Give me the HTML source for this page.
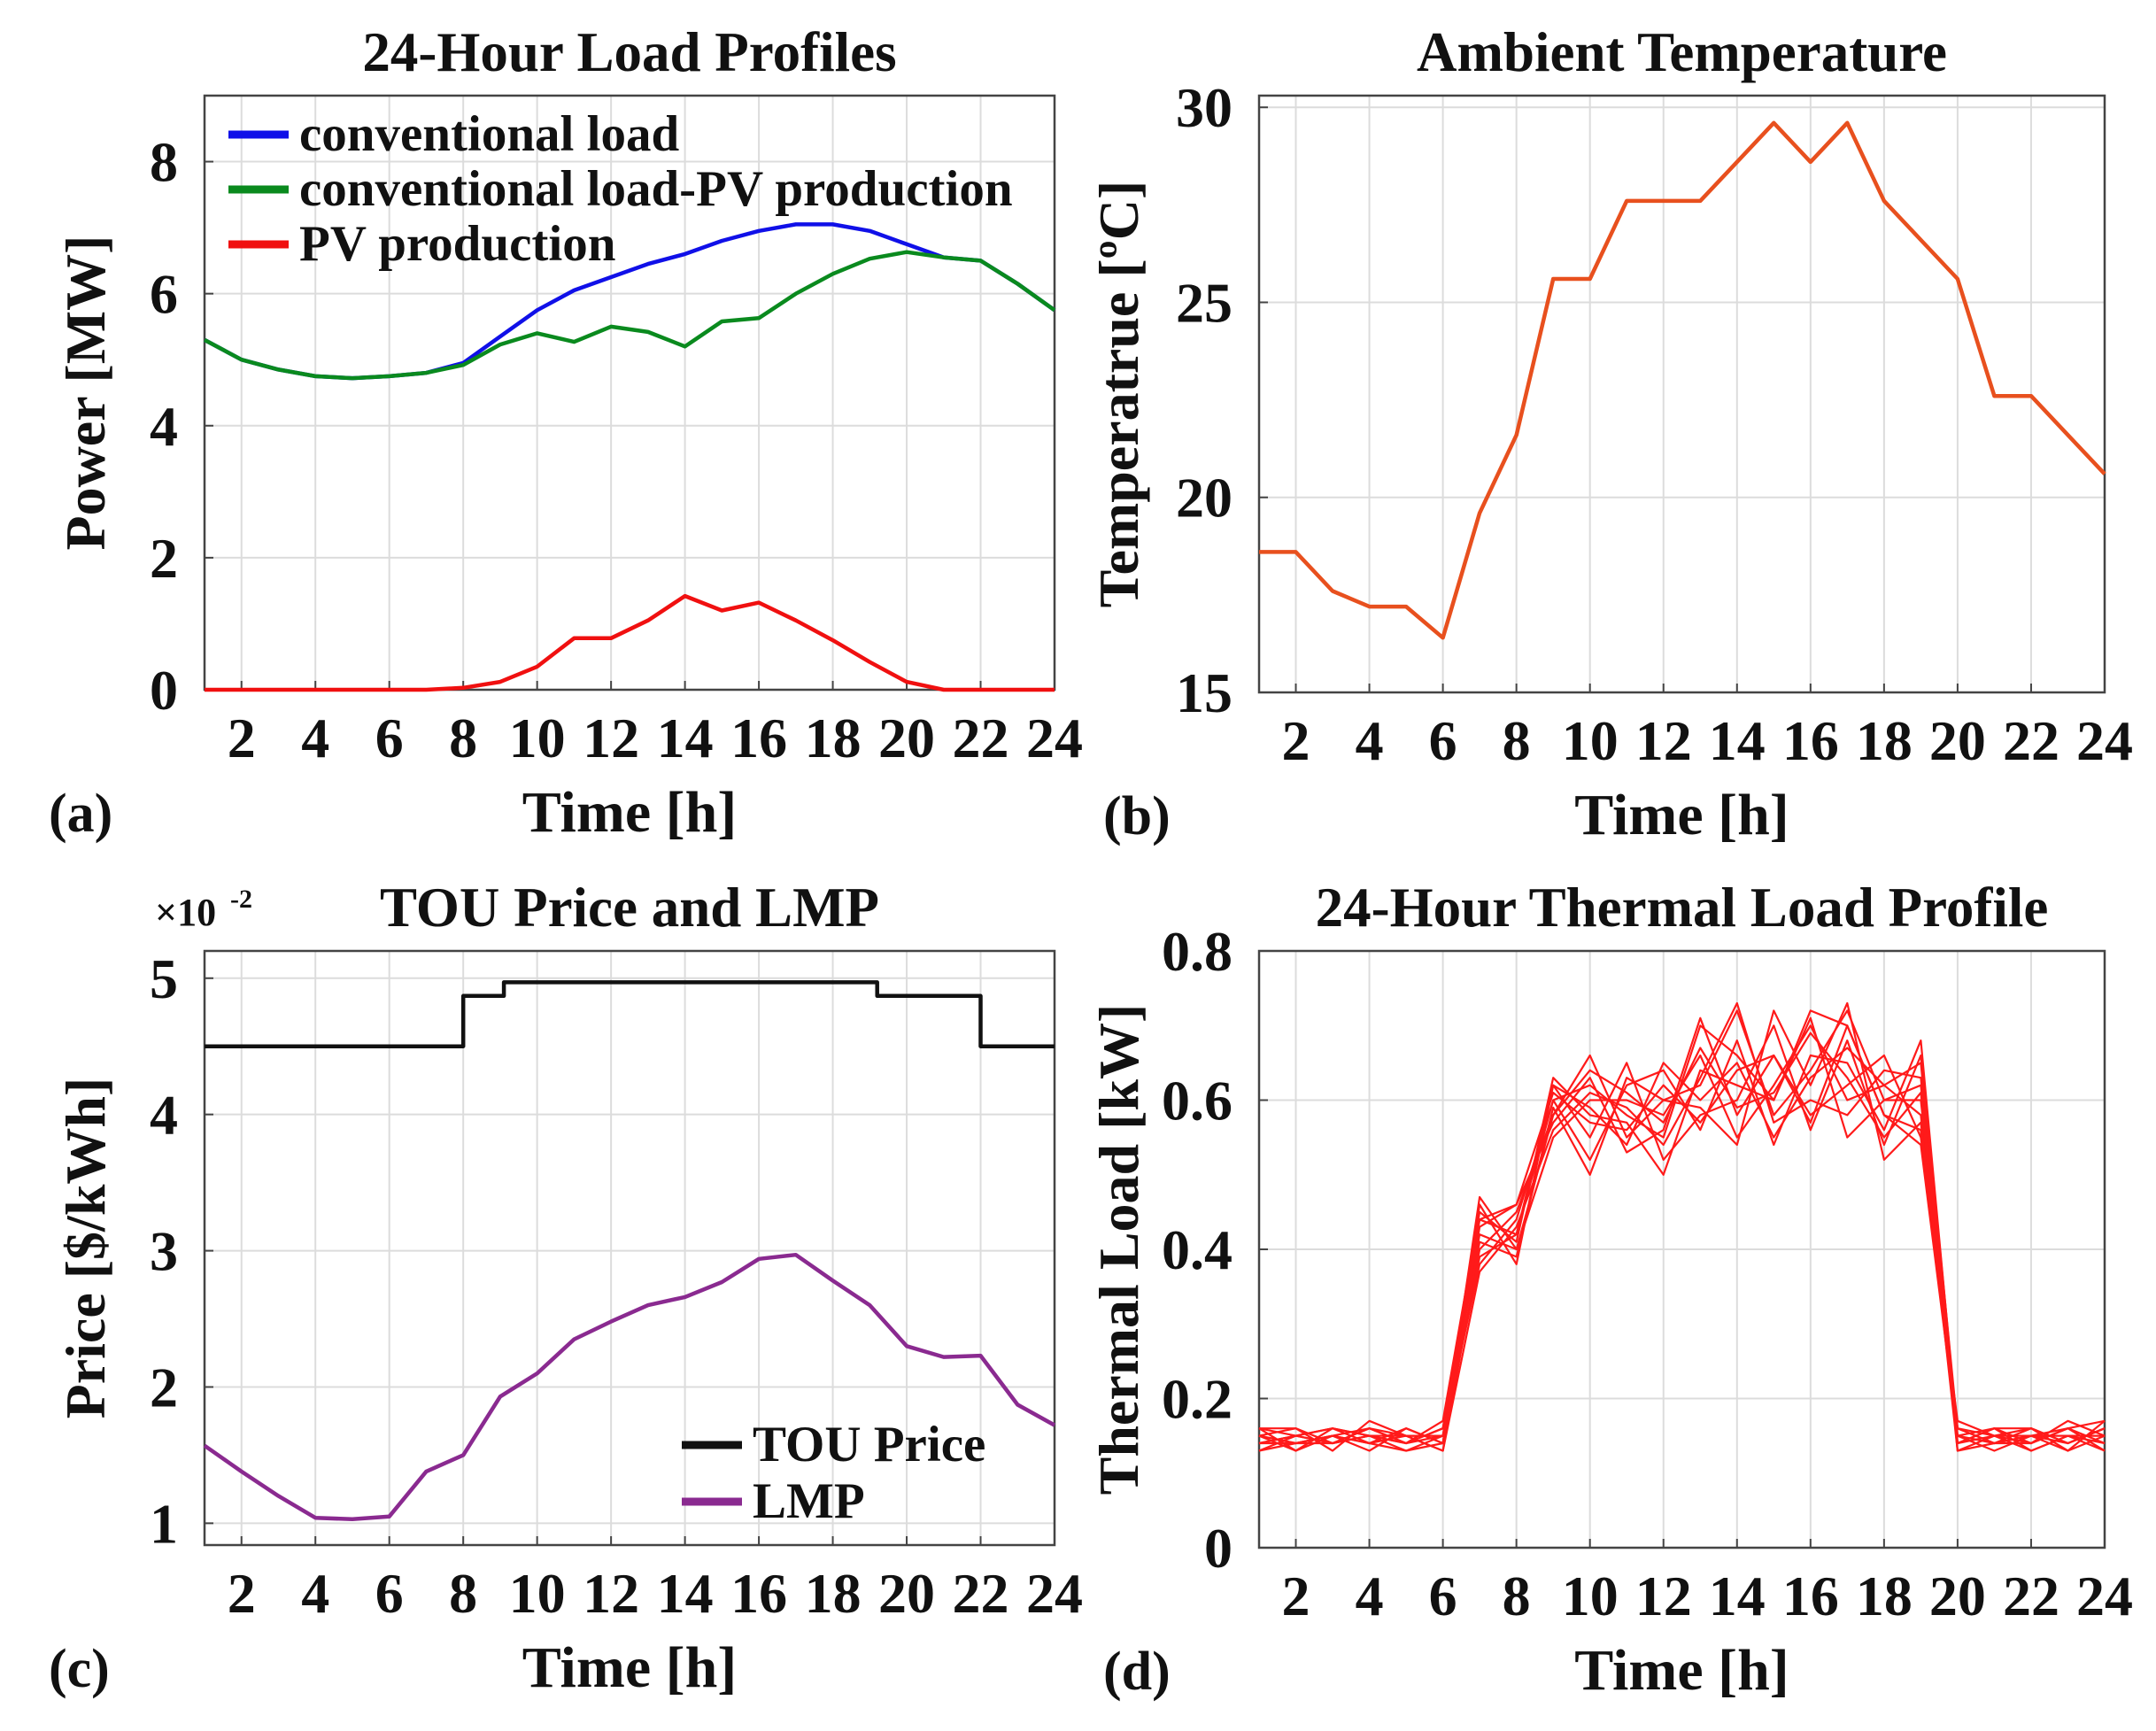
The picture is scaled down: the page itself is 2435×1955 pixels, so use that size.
<!DOCTYPE html>
<html><head><meta charset="utf-8"><style>
html,body{margin:0;padding:0;background:#fff;}
svg{display:block;}
text{font-family:"Liberation Serif",serif;font-weight:bold;fill:#111;}
</style></head><body>
<svg id="fig" width="2435" height="1955" viewBox="0 0 2435 1955" xmlns="http://www.w3.org/2000/svg"></svg>
<script>
const hours=[1,2,3,4,5,6,7,8,9,10,11,12,13,14,15,16,17,18,19,20,21,22,23,24];
const xTicks=[2,4,6,8,10,12,14,16,18,20,22,24];
// (a)
const convLoad=[5.3,5.0,4.85,4.75,4.72,4.75,4.8,4.95,5.35,5.75,6.05,6.25,6.45,6.6,6.8,6.95,7.05,7.05,6.95,6.75,6.55,6.5,6.15,5.75];
const netLoad=[5.3,5.0,4.85,4.75,4.72,4.75,4.8,4.92,5.23,5.4,5.27,5.5,5.42,5.2,5.58,5.63,6.0,6.3,6.53,6.63,6.55,6.5,6.15,5.75];
const pvProd=[0,0,0,0,0,0,0,0.03,0.12,0.35,0.78,0.78,1.05,1.42,1.2,1.32,1.05,0.75,0.42,0.12,0,0,0,0];
const aYTicks=[0,2,4,6,8];
// (b)
const temperature=[18.6,18.6,17.6,17.2,17.2,16.4,19.6,21.6,25.6,25.6,27.6,27.6,27.6,28.6,29.6,28.6,29.6,27.6,26.6,25.6,22.6,22.6,21.6,20.6];
const bYTicks=[15,20,25,30];
// (c)
const touHours=[1,8,9.1,19.2,22,24];
const touValues=[4.5,4.87,4.97,4.87,4.5,4.5];
const lmp=[1.57,1.38,1.2,1.04,1.03,1.05,1.38,1.5,1.93,2.1,2.35,2.48,2.6,2.66,2.77,2.94,2.97,2.78,2.6,2.3,2.22,2.23,1.87,1.72];
const cYTicks=[1,2,3,4,5];
// (d)
const thermal1=[0.15,0.14,0.15,0.16,0.14,0.15,0.44,0.42,0.60,0.62,0.58,0.55,0.70,0.66,0.60,0.72,0.70,0.58,0.56,0.15,0.14,0.15,0.14,0.16];
const thermal2=[0.14,0.15,0.14,0.15,0.15,0.13,0.40,0.45,0.58,0.66,0.55,0.60,0.62,0.72,0.58,0.64,0.72,0.60,0.62,0.14,0.16,0.13,0.15,0.14];
const thermal3=[0.16,0.13,0.15,0.14,0.13,0.14,0.46,0.38,0.62,0.55,0.65,0.52,0.58,0.60,0.70,0.56,0.68,0.54,0.66,0.16,0.15,0.14,0.17,0.15];
const thermal4=[0.13,0.15,0.16,0.15,0.14,0.16,0.42,0.40,0.55,0.60,0.60,0.58,0.66,0.55,0.62,0.70,0.60,0.62,0.58,0.13,0.14,0.16,0.13,0.17];
const thermal5=[0.15,0.16,0.13,0.17,0.15,0.15,0.38,0.44,0.60,0.52,0.62,0.64,0.56,0.68,0.54,0.66,0.65,0.56,0.68,0.15,0.13,0.15,0.16,0.13];
const thermal6=[0.14,0.14,0.15,0.13,0.16,0.14,0.43,0.46,0.57,0.63,0.53,0.56,0.71,0.58,0.66,0.58,0.62,0.66,0.55,0.17,0.15,0.13,0.15,0.15];
const thermal7=[0.16,0.15,0.14,0.16,0.14,0.17,0.45,0.41,0.63,0.58,0.57,0.50,0.64,0.62,0.60,0.71,0.55,0.60,0.60,0.14,0.16,0.16,0.14,0.16];
const thermal8=[0.15,0.13,0.16,0.15,0.13,0.15,0.41,0.39,0.59,0.50,0.63,0.60,0.59,0.54,0.72,0.62,0.73,0.52,0.57,0.16,0.14,0.14,0.16,0.14];
const thermal9=[0.13,0.14,0.15,0.14,0.15,0.13,0.37,0.43,0.56,0.61,0.59,0.54,0.63,0.73,0.57,0.60,0.58,0.64,0.63,0.13,0.15,0.15,0.13,0.15];
const thermal10=[0.16,0.16,0.14,0.15,0.14,0.16,0.44,0.46,0.61,0.57,0.56,0.62,0.57,0.64,0.66,0.57,0.70,0.58,0.54,0.15,0.16,0.14,0.16,0.17];
const thermal11=[0.14,0.15,0.16,0.14,0.16,0.14,0.47,0.40,0.58,0.64,0.61,0.57,0.67,0.59,0.61,0.69,0.63,0.55,0.61,0.16,0.14,0.15,0.15,0.13];
const thermal12=[0.15,0.14,0.14,0.16,0.15,0.15,0.39,0.42,0.62,0.59,0.54,0.65,0.60,0.65,0.55,0.63,0.67,0.62,0.65,0.14,0.15,0.16,0.14,0.16];
const thermalSeries=[thermal1,thermal2,thermal3,thermal4,thermal5,thermal6,thermal7,thermal8,thermal9,thermal10,thermal11,thermal12];
const dYTicks=[0,0.2,0.4,0.6,0.8];

const NS='http://www.w3.org/2000/svg';
const svg=document.getElementById('fig');
function mk(tag,attrs,parent){const e=document.createElementNS(NS,tag);for(const k in attrs)e.setAttribute(k,attrs[k]);(parent||svg).appendChild(e);return e;}
function txt(s,attrs,parent){const e=mk('text',attrs,parent);e.textContent=s;return e;}

function panel(cfg){
  const g=mk('g',{});
  
  
  const {L,R,T,B,ymin,ymax}=cfg;
  const sx=v=>L+(v-1)/(24-1)*(R-L);
  const sy=v=>B-(v-ymin)/(ymax-ymin)*(B-T);
  xTicks.forEach(t=>{const l=mk('line',{x1:sx(t),x2:sx(t),y1:T,y2:B,stroke:'#dcdcdc','stroke-width':2},g);
    });
  cfg.yTicks.forEach(t=>{const l=mk('line',{x1:L,x2:R,y1:sy(t),y2:sy(t),stroke:'#dcdcdc','stroke-width':2},g);
    });
  const fr=mk('rect',{x:L,y:T,width:R-L,height:B-T,fill:'none',stroke:'#444','stroke-width':2.5},g);
  
  xTicks.forEach(t=>{
    mk('line',{x1:sx(t),x2:sx(t),y1:B,y2:B-10,stroke:'#444','stroke-width':2},g);
    const tl=txt(String(t),{x:sx(t),y:B+76,'font-size':64,'text-anchor':'middle'},g);
    
  });
  cfg.yTicks.forEach(t=>{
    mk('line',{x1:L,x2:L+10,y1:sy(t),y2:sy(t),stroke:'#444','stroke-width':2},g);
    const tl=txt(cfg.fmt(t),{x:L-30,y:sy(t)+22,'font-size':64,'text-anchor':'end'},g);
    
  });
  const ti=txt(cfg.title,{x:(L+R)/2,y:T-28,'font-size':63,'text-anchor':'middle'},g);
  
  const xl=txt('Time [h]',{x:(L+R)/2,y:B+160,'font-size':66,'text-anchor':'middle'},g);
  
  const yl=txt(cfg.ylabel,{x:0,y:0,'font-size':64,'text-anchor':'middle',transform:`translate(${cfg.ylx},${(T+B)/2}) rotate(-90)`},g);
  
  const pl=txt(cfg.letter,{x:L-176,y:B+160,'font-size':62,'font-weight':'normal'},g);
  
  return {g,sx,sy};
}
function line(p,xs,ys,color,w,name){
  const pts=xs.map((x,i)=>p.sx(x).toFixed(1)+','+p.sy(ys[i]).toFixed(1)).join(' ');
  const e=mk('polyline',{points:pts,fill:'none',stroke:color,'stroke-width':w,'stroke-linejoin':'round'},p.g);
  
  
  return e;
}
function legendEntry(g,x,y,color,label,name){
  const lg=mk('g',{},g);
  
  
  mk('line',{x1:x,x2:x+68,y1:y,y2:y,stroke:color,'stroke-width':9},lg);
  txt(label,{x:x+80,y:y+18,'font-size':57},lg);
}

// (a)
const pa=panel({name:'panel-a-load-profiles',L:231,R:1191,T:108,B:779,ymin:0,ymax:9,yTicks:aYTicks,fmt:v=>String(v),title:'24-Hour Load Profiles',ylabel:'Power [MW]',ylx:118,letter:'(a)'});
line(pa,hours,convLoad,'#1010e8',4.5,'conventional-load-line');
line(pa,hours,netLoad,'#0a8a1e',4.5,'net-load-line');
line(pa,hours,pvProd,'#f01010',4.5,'pv-production-line');
legendEntry(pa.g,258,152,'#1010e8','conventional load','legend-entry-conventional-load');
legendEntry(pa.g,258,214,'#0a8a1e','conventional load-PV production','legend-entry-net-load');
legendEntry(pa.g,258,276,'#f01010','PV production','legend-entry-pv-production');

// (b)
const pb=panel({name:'panel-b-temperature',L:1422,R:2377,T:108,B:782,ymin:15,ymax:30.3,yTicks:bYTicks,fmt:v=>String(v),title:'Ambient Temperature',ylabel:'Temperatrue [ºC]',ylx:1285,letter:'(b)'});
line(pb,hours,temperature,'#e8501e',4.5,'temperature-line');

// (c)
const pc=panel({name:'panel-c-price',L:231,R:1191,T:1074,B:1745,ymin:0.84,ymax:5.2,yTicks:cYTicks,fmt:v=>String(v),title:'TOU Price and LMP',ylabel:'Price [$/kWh]',ylx:118,letter:'(c)'});
{
  const sx=[],sy=[];
  for(let i=0;i<touHours.length;i++){
    if(i>0){sx.push(touHours[i]);sy.push(touValues[i-1]);}
    sx.push(touHours[i]);sy.push(touValues[i]);
  }
  line(pc,sx,sy,'#111',4.5,'tou-price-line');
}
line(pc,hours,lmp,'#8a2a90',4.5,'lmp-line');
legendEntry(pc.g,770,1632,'#111','TOU Price','legend-entry-tou-price');
legendEntry(pc.g,770,1696,'#8a2a90','LMP','legend-entry-lmp');
{const e=txt('×10',{x:175,y:1045,'font-size':44,'font-weight':'normal'},pc.g);
 
 const s=txt('-2',{x:260,y:1025,'font-size':30,'font-weight':'normal'},pc.g);
 }

// (d)
const pd=panel({name:'panel-d-thermal-load',L:1422,R:2377,T:1074,B:1748,ymin:0,ymax:0.8,yTicks:dYTicks,fmt:v=>v===0?'0':v.toFixed(1),title:'24-Hour Thermal Load Profile',ylabel:'Thermal Load [kW]',ylx:1285,letter:'(d)'});
thermalSeries.forEach((s,i)=>{
  const e=line(pd,hours,s,'#ff1a1a',2.2,'thermal-load-line');
  
});
</script>
</body></html>
